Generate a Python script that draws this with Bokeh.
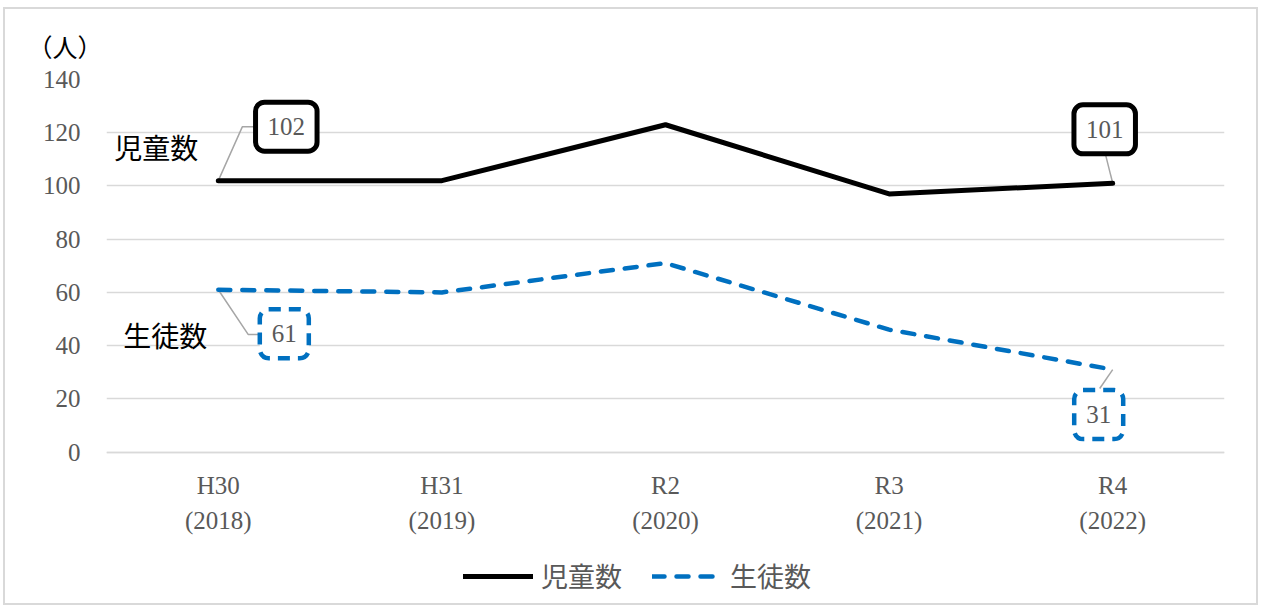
import numpy as np
from bokeh.plotting import figure
from bokeh.models import (Range1d, FixedTicker, Legend, LegendItem, Label)
from bokeh.embed import file_html
from bokeh.resources import INLINE
from bokeh.core.properties import value

# ---- data ----
periods = ["H30", "H31", "R2", "R3", "R4"]
years = ["(2018)", "(2019)", "(2020)", "(2021)", "(2022)"]
jidou = [102, 102, 123, 97, 101]      # 児童数
seito = [61, 60, 71, 46, 31]          # 生徒数
y_ticks = [0, 20, 40, 60, 80, 100, 120, 140]
series_names = ["児童数", "生徒数"]
unit_label = "（人）"

# ---- layout ----
W, H = 1255, 598
ML, MR, MT, MB = 101, 36, 68, 6
FW, FH = W - ML - MR, H - MT - MB
YMAX = 140
PLOT_H = 374                      # pixel height of the 0..140 band
px_y = PLOT_H / YMAX
px_x = FW / len(periods)
YMIN = YMAX - FH / px_y           # frame extends below 0 to hold axis labels + legend

BLACK = "#000000"
BLUE = "#0070C0"
GRID = "#D9D9D9"
TXT = "#595959"
CJK = "Noto Sans CJK JP"
SERIF = "Liberation Serif"

xs = list(range(len(periods)))

p = figure(width=W, height=H, output_backend="svg", toolbar_location=None,
           x_range=Range1d(-0.5, len(periods) - 0.5), y_range=Range1d(YMIN, YMAX),
           min_border_left=ML, min_border_right=MR, min_border_top=MT, min_border_bottom=MB,
           background_fill_color="white", border_fill_color="white",
           styles={"border": "2px solid #D9D9D9", "margin-left": "3px", "margin-top": "7px"})
p.outline_line_color = None
p.xgrid.grid_line_color = None
p.ygrid.grid_line_color = GRID
p.ygrid.grid_line_width = 1.5

# unit label as title
p.title.text = unit_label
p.title.align = "left"
p.title.offset = -79
p.title.standoff = 32
p.title.text_font = CJK
p.title.text_font_size = "25px"
p.title.text_font_style = "normal"
p.title.text_color = BLACK

# y axis
p.yaxis.ticker = FixedTicker(ticks=y_ticks)
p.yaxis.axis_line_color = None
p.yaxis.major_tick_line_color = None
p.yaxis.minor_tick_line_color = None
p.yaxis.major_label_standoff = 20
p.yaxis.major_label_text_font = SERIF
p.yaxis.major_label_text_font_size = "25px"
p.yaxis.major_label_text_color = TXT

# x axis, pinned at value 0
p.xaxis.fixed_location = 0
p.xaxis.ticker = FixedTicker(ticks=xs)
p.xaxis.major_label_overrides = {i: f"{a}\n{b}" for i, (a, b) in enumerate(zip(periods, years))}
p.xaxis.axis_line_color = GRID
p.xaxis.axis_line_width = 1.5
p.xaxis.major_tick_line_color = None
p.xaxis.minor_tick_line_color = None
p.xaxis.major_label_standoff = 14
p.xaxis.major_label_text_font = SERIF
p.xaxis.major_label_text_font_size = "25px"
p.xaxis.major_label_text_color = TXT
p.xaxis.major_label_text_line_height = 1.3

# leader lines (pixel offsets converted to data units)
def leader(i, v, offs):
    lx = [i] + [i + dx / px_x for dx, dy in offs]
    ly = [v] + [v + dy / px_y for dx, dy in offs]
    return lx, ly

LEAD = "#A6A6A6"
for (i, v, offs) in [
    (0, jidou[0], [(24, 54), (38, 54)]),
    (4, jidou[4], [(-7, 28)]),
    (0, seito[0], [(30, -45), (42, -45)]),
    (4, seito[4], [(-13, -19)]),
]:
    lx, ly = leader(i, v, offs)
    p.line(lx, ly, line_color=LEAD, line_width=1.5)

# series lines
r1 = p.line(xs, jidou, line_color=BLACK, line_width=5, line_join="round", line_cap="round")
r2 = p.line(xs, seito, line_color=BLUE, line_width=4.5, line_dash="12 12",
            line_join="round", line_cap="round")

# data labels (first and last points)
specs = [
    (jidou, [0, 4], [(68, 54), (-8, 54)], BLACK, 5, "solid"),
    (seito, [0, 4], [(66, -44), (-14, -45)], BLUE, 4.5, "12 8"),
]
for vals, idxs, offs, col, lw, dash in specs:
    for i, (dx, dy) in zip(idxs, offs):
        p.add_layout(Label(x=xs[i], y=vals[i], x_offset=dx, y_offset=dy, text=str(vals[i]),
                           text_align="center", text_baseline="middle",
                           text_font=SERIF, text_font_size="25px", text_color=TXT,
                           background_fill_color="white", border_line_color=col,
                           border_line_width=lw, border_line_dash=dash,
                           border_radius=9, padding=(12, 16)))

# series name labels
p.add_layout(Label(x=xs[0], y=jidou[0], x_offset=-104, y_offset=34, text=series_names[0],
                   text_align="left", text_baseline="middle", text_font=CJK,
                   text_font_size="28px", text_color=BLACK))
p.add_layout(Label(x=xs[0], y=seito[0], x_offset=-95, y_offset=-45, text=series_names[1],
                   text_align="left", text_baseline="middle", text_font=CJK,
                   text_font_size="28px", text_color=BLACK))

# legend inside the extended frame, below the axis labels
legend = Legend(items=[LegendItem(label=series_names[0], renderers=[r1]),
                       LegendItem(label=series_names[1], renderers=[r2])],
                orientation="horizontal", location=(357, 6),
                glyph_width=70, glyph_height=30, label_standoff=8, spacing=30,
                padding=0, margin=0, border_line_color=None, background_fill_alpha=0,
                label_text_font=CJK, label_text_font_size="27px", label_text_color=TXT)
p.add_layout(legend)

open("out.html", "w").write(file_html(p, INLINE))
